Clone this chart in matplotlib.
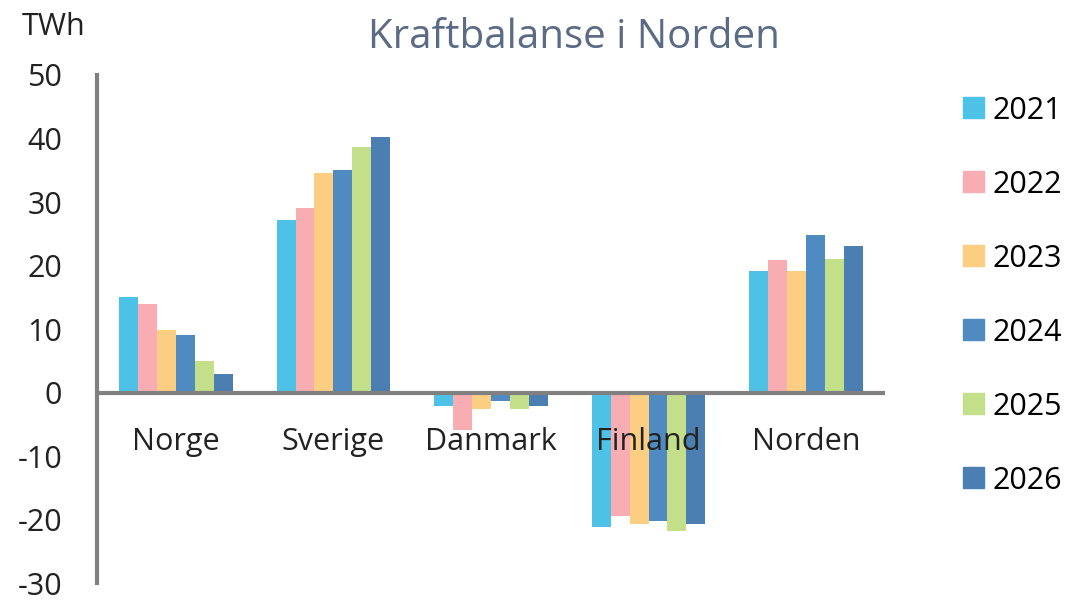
import matplotlib
matplotlib.use('Agg')
from matplotlib import pyplot as plt
from matplotlib.patches import Patch
import numpy as np

# Data (TWh)
regions = ['Norge', 'Sverige', 'Danmark', 'Finland', 'Norden']
years = ['2021', '2022', '2023', '2024', '2025', '2026']
y2021 = [15.0, 27.2, -2.1, -21.2, 19.2]
y2022 = [13.9, 29.1, -5.9, -19.5, 20.8]
y2023 = [9.8, 34.5, -2.6, -20.7, 19.2]
y2024 = [9.1, 35.1, -1.3, -20.3, 24.8]
y2025 = [5.0, 38.7, -2.6, -21.8, 21.1]
y2026 = [2.9, 40.2, -2.2, -20.7, 23.0]
series = [y2021, y2022, y2023, y2024, y2025, y2026]
colors = ['#4DC1E6', '#F7ADB1', '#FCCE82', '#4F8BC0', '#C3DF8A', '#4B7EB1']

plt.rcParams['font.family'] = ['Open Sans', 'DejaVu Sans']
plt.rcParams['axes.unicode_minus'] = False

fig = plt.figure(figsize=(10.72, 6), dpi=100)
ax = fig.add_axes([0.0905, 0.0283, 0.735, 0.8467])

x = np.arange(len(regions))
bar_w = 0.12
for i, (vals, col) in enumerate(zip(series, colors)):
    ax.bar(x + (i - 2.5) * bar_w, vals, width=bar_w, color=col, label=years[i], zorder=2)

ax.set_xlim(-0.5, len(regions) - 0.5)
ax.set_ylim(-30, 50)
ax.set_yticks(range(-30, 51, 10))
ax.tick_params(axis='y', length=0, labelsize=22, pad=25, labelcolor='#222222')
ax.set_xticks([])

for s in ['top', 'right', 'bottom']:
    ax.spines[s].set_visible(False)
ax.spines['left'].set_color('#808080')
ax.spines['left'].set_linewidth(3)
ax.axhline(0, color='#808080', lw=3, zorder=3)

# category labels sit just under the zero line
for xi, name in zip(x, regions):
    ax.text(xi, -9.1, name, ha='center', va='baseline', fontsize=22, color='#222222', zorder=4)

fig.text(0.535, 0.92, 'Kraftbalanse i Norden', ha='center', va='baseline',
         fontsize=29, color='#5B6B85')
fig.text(0.0205, 0.942, 'TWh', ha='left', va='baseline', fontsize=22, color='#222222')

handles = [Patch(color=c) for c in colors]
fig.legend(handles, years, loc='upper left', bbox_to_anchor=(0.884, 0.866),
           frameon=False, fontsize=22, labelspacing=1.44, handlelength=0.68,
           handleheight=0.68, handletextpad=0.3, borderpad=0)

fig.savefig('out.png', dpi=100)
